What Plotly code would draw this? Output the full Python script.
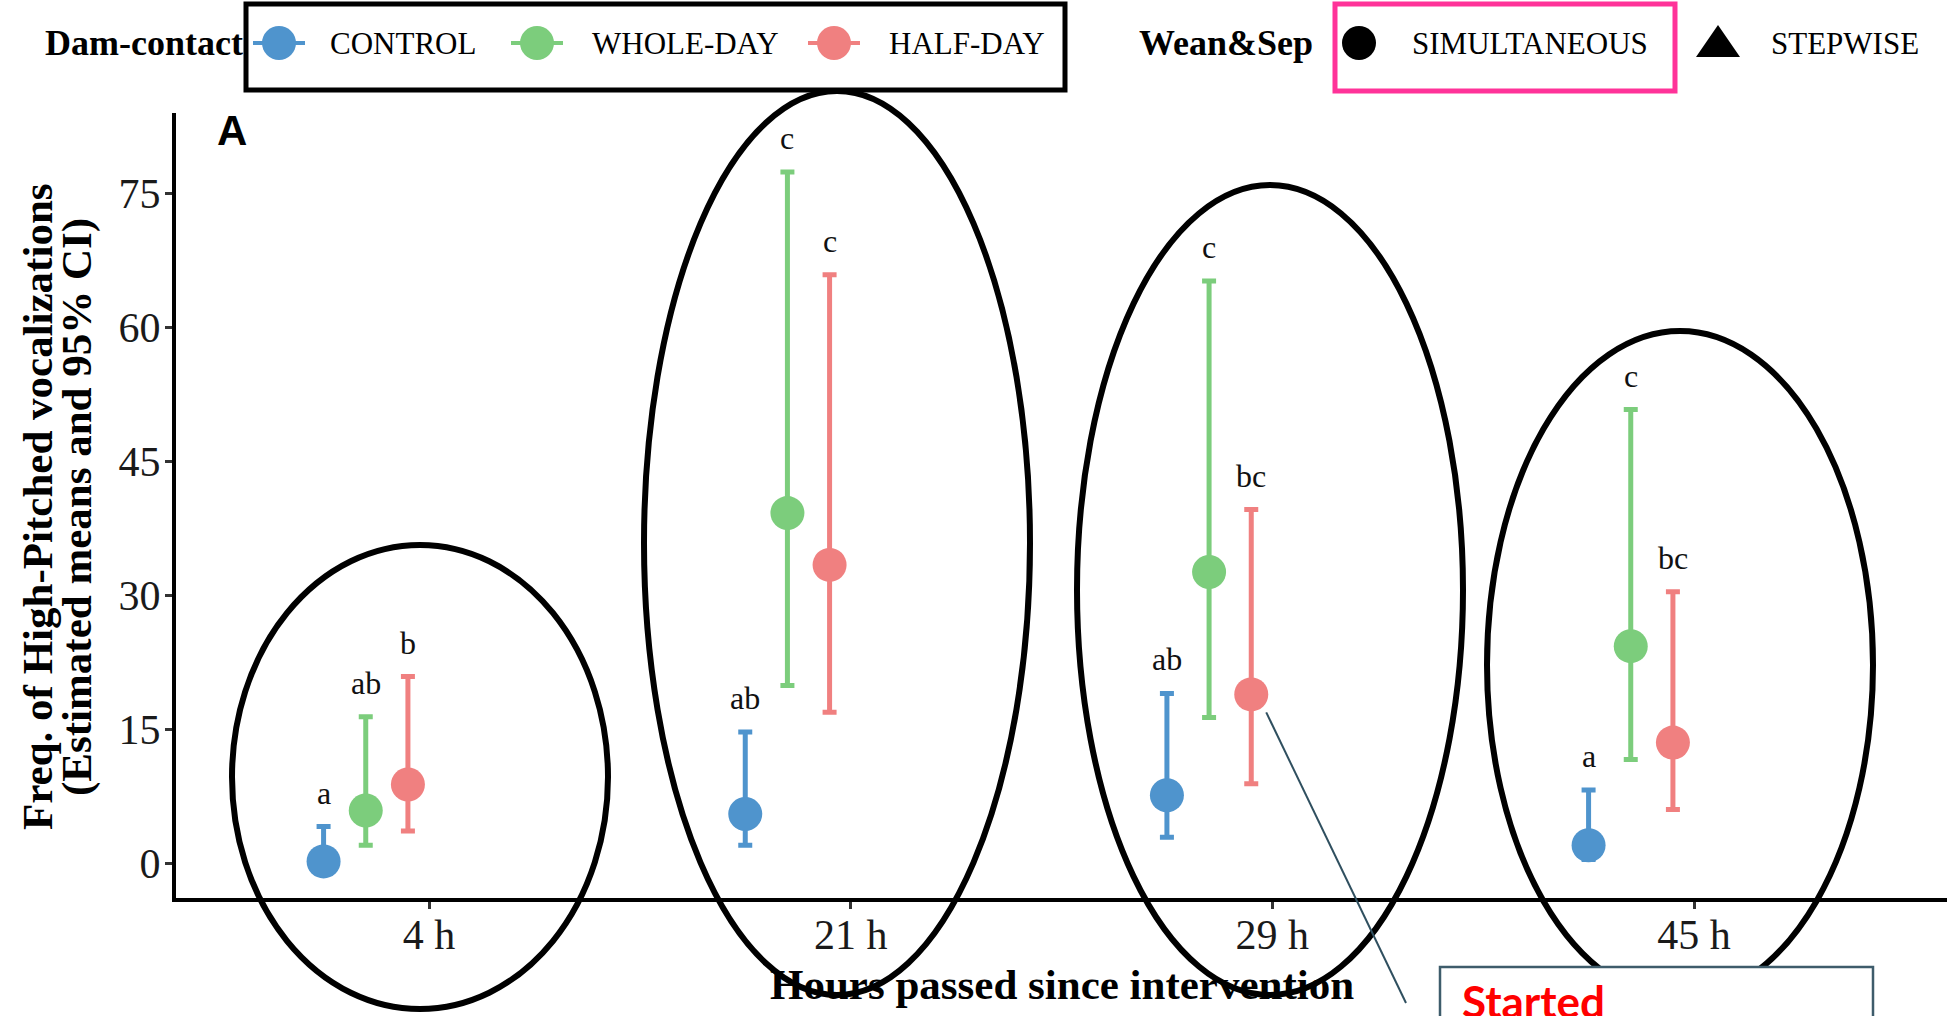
import plotly.graph_objects as go

# ---- data: estimated means and 95% CI of high-pitched vocalizations ----
hours = ["4 h", "21 h", "29 h", "45 h"]
groups = ["CONTROL", "WHOLE-DAY", "HALF-DAY"]

control_mean = [0.2, 5.5, 7.6, 2.0]
control_low = [0.0, 2.0, 2.9, 0.4]
control_high = [4.1, 14.7, 19.0, 8.2]

whole_mean = [5.9, 39.2, 32.6, 24.3]
whole_low = [2.0, 19.9, 16.3, 11.6]
whole_high = [16.4, 77.4, 65.2, 50.8]

half_mean = [8.8, 33.4, 18.9, 13.5]
half_low = [3.6, 16.9, 8.9, 6.0]
half_high = [20.9, 65.9, 39.6, 30.4]

control_letters = ["a", "ab", "ab", "a"]
whole_letters = ["ab", "c", "c", "c"]
half_letters = ["b", "c", "bc", "bc"]

y_ticks = [0, 15, 30, 45, 60, 75]

# ---- styling ----
colors = {"CONTROL": "#4F94CD", "WHOLE-DAY": "#7CCD7C", "HALF-DAY": "#F08080"}
dodge = {"CONTROL": -0.25, "WHOLE-DAY": -0.15, "HALF-DAY": -0.05}
SERIF = "Liberation Serif"

W_FIG, H_FIG = 1958, 1016
L, R, T, B = 176, 1947, 113, 898
PW, PH = R - L, B - T
X_RANGE = [0.4, 4.6]
Y_RANGE = [-3.9, 84.0]


def px(x):
    return (x - L) / PW


def py(y):
    return (B - y) / PH


def data_to_pixel(xv, yv):
    xp = L + (xv - X_RANGE[0]) / (X_RANGE[1] - X_RANGE[0]) * PW
    yp = B - (yv - Y_RANGE[0]) / (Y_RANGE[1] - Y_RANGE[0]) * PH
    return xp, yp


def label(x, y, text, size, family=SERIF, color="black", xanchor="center",
          yanchor="middle", angle=0):
    return dict(x=px(x), y=py(y), xref="paper", yref="paper", text=text,
                showarrow=False, xanchor=xanchor, yanchor=yanchor, textangle=angle,
                font=dict(family=family, size=size, color=color))


series = {
    "CONTROL": (control_mean, control_low, control_high, control_letters),
    "WHOLE-DAY": (whole_mean, whole_low, whole_high, whole_letters),
    "HALF-DAY": (half_mean, half_low, half_high, half_letters),
}

fig = go.Figure()
annotations = []

for g in groups:
    mean, low, high, letters = series[g]
    xs = [i + 1 + dodge[g] for i in range(len(hours))]
    fig.add_trace(go.Scatter(
        x=xs, y=mean, mode="markers", name=g, showlegend=False,
        marker=dict(size=34, color=colors[g], line=dict(width=0)),
        error_y=dict(type="data", symmetric=False,
                     array=[h - m for h, m in zip(high, mean)],
                     arrayminus=[m - lo for m, lo in zip(mean, low)],
                     color=colors[g], thickness=5, width=7),
    ))
    for xv, hv, lab in zip(xs, high, letters):
        annotations.append(dict(
            x=xv, y=hv, xref="x", yref="y", text=lab, showarrow=False,
            xanchor="center", yanchor="middle", yshift=34,
            font=dict(family=SERIF, size=32, color="#111111"),
        ))

shapes = []

# highlight ellipses around each time point
for cx, cy, rx, ry in [(420, 777, 188, 232), (837, 543, 193, 452),
                       (1270, 590, 193, 405), (1680, 665, 193, 334)]:
    shapes.append(dict(type="circle", xref="paper", yref="paper",
                       x0=px(cx - rx), x1=px(cx + rx), y0=py(cy + ry), y1=py(cy - ry),
                       line=dict(color="black", width=6), layer="above"))

# callout line from the 29 h HALF-DAY estimate
hx, hy = data_to_pixel(3 + dodge["HALF-DAY"], half_mean[2])
shapes.append(dict(type="line", xref="paper", yref="paper",
                   x0=px(hx + 15), y0=py(hy + 18), x1=px(1406), y1=py(1003),
                   line=dict(color="#2F4F5F", width=2), layer="above"))

# callout box
shapes.append(dict(type="rect", xref="paper", yref="paper",
                   x0=px(1440), x1=px(1873), y0=py(1040), y1=py(967),
                   fillcolor="white", line=dict(color="#3E5C6B", width=2.5), layer="above"))

# ---- legend drawn by hand ----
shapes.append(dict(type="rect", xref="paper", yref="paper",
                   x0=px(246), x1=px(1065), y0=py(90), y1=py(4),
                   line=dict(color="black", width=5), fillcolor="rgba(0,0,0,0)"))
shapes.append(dict(type="rect", xref="paper", yref="paper",
                   x0=px(1335), x1=px(1675), y0=py(91), y1=py(4),
                   line=dict(color="#FF3399", width=5), fillcolor="rgba(0,0,0,0)"))

LEG_Y = 43
for g, kx, tx in [("CONTROL", 279, 328), ("WHOLE-DAY", 537, 590), ("HALF-DAY", 834, 887)]:
    shapes.append(dict(type="line", xref="paper", yref="paper",
                       x0=px(kx - 26), x1=px(kx + 26), y0=py(LEG_Y), y1=py(LEG_Y),
                       line=dict(color=colors[g], width=4)))
    shapes.append(dict(type="circle", xref="paper", yref="paper",
                       x0=px(kx - 17), x1=px(kx + 17), y0=py(LEG_Y + 17), y1=py(LEG_Y - 17),
                       fillcolor=colors[g], line=dict(width=0)))
    annotations.append(label(tx, LEG_Y, g, 31, xanchor="left"))

shapes.append(dict(type="circle", xref="paper", yref="paper",
                   x0=px(1359 - 17), x1=px(1359 + 17), y0=py(LEG_Y + 17), y1=py(LEG_Y - 17),
                   fillcolor="black", line=dict(width=0)))
shapes.append(dict(type="path", xref="paper", yref="paper",
                   path=f"M {px(1696)},{py(57)} L {px(1740)},{py(57)} L {px(1718)},{py(25)} Z",
                   fillcolor="black", line=dict(width=0)))

annotations.append(label(1410, LEG_Y, "SIMULTANEOUS", 31, xanchor="left"))
annotations.append(label(1769, LEG_Y, "STEPWISE", 31, xanchor="left"))
annotations.append(label(43, LEG_Y, "<b>Dam-contact</b>", 36, xanchor="left"))
annotations.append(label(1137, LEG_Y, "<b>Wean&Sep</b>", 36, xanchor="left"))

# panel tag
annotations.append(label(232, 130, "<b>A</b>", 42, family="Liberation Sans"))

# axis titles
annotations.append(label(1062, 984, "<b>Hours passed since intervention</b>", 43))
annotations.append(label(37, 507, "<b>Freq. of High-Pitched vocalizations</b>", 43, angle=-90))
annotations.append(label(77, 507, "<b>(Estimated means and 95% CI)</b>", 43, angle=-90))

# callout text
annotations.append(label(1460, 973, "<b>Started</b>", 44, family="Lato", color="#FF0000",
                         xanchor="left", yanchor="top"))

fig.update_layout(
    width=W_FIG, height=H_FIG,
    margin=dict(l=L, r=W_FIG - R, t=T, b=H_FIG - B, pad=0),
    paper_bgcolor="white", plot_bgcolor="white",
    showlegend=False,
    shapes=shapes, annotations=annotations,
    xaxis=dict(range=X_RANGE, tickvals=[1, 2, 3, 4], ticktext=hours,
               showgrid=False, zeroline=False, showline=True, linecolor="black", linewidth=4,
               ticks="outside", ticklen=7, tickwidth=3, tickcolor="#333333",
               ticklabelstandoff=-10,
               tickfont=dict(family=SERIF, size=42, color="#1a1a1a")),
    yaxis=dict(range=Y_RANGE, tickvals=y_ticks,
               showgrid=False, zeroline=False, showline=True, linecolor="black", linewidth=4,
               ticks="outside", ticklen=7, tickwidth=3, tickcolor="#333333",
               ticklabelstandoff=-4,
               tickfont=dict(family=SERIF, size=42, color="#1a1a1a")),
)

fig.write_html("out.html")
